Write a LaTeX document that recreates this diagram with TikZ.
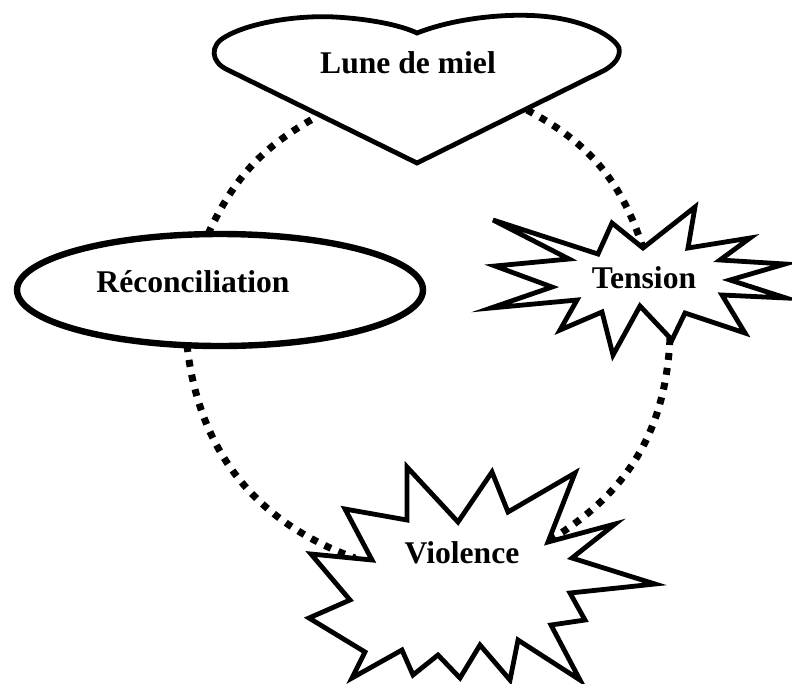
\documentclass[tikz,border=0pt]{standalone}
\usepackage{fontspec}
\setmainfont{Liberation Serif}

\begin{document}
\begin{tikzpicture}[
  x=0.75pt, y=0.75pt,
  cycleline/.style={line width=5.25pt, dash pattern=on 5.25pt off 6pt},
  outline/.style={draw=black, fill=white, line width=3.6pt},
  oval/.style={draw=black, fill=white, line width=4.8pt},
  phase/.style={font=\fontsize{23.7}{28}\selectfont\bfseries, anchor=base, inner sep=0pt}
]
  \useasboundingbox (0,0) rectangle (792,-683);

  % ends of the dotted cycle
  \coordinate (lune-w) at (318,-116);
  \coordinate (lune-e) at (527,-110);
  \coordinate (tension-n) at (643,-248);
  \coordinate (tension-s) at (670,-338);
  \coordinate (violence-e) at (550,-540);
  \coordinate (violence-w) at (355,-558);
  \coordinate (reconc-s) at (187,-345);
  \coordinate (reconc-n) at (208,-234);

  \draw[cycleline] (lune-e) to[bend left=22] (tension-n);
  \draw[cycleline] (tension-s) to[bend left=28] (violence-e);
  \draw[cycleline] (reconc-s) to[bend right=32] (violence-w);
  \draw[cycleline] (reconc-n) to[bend left=18] (lune-w);

  % heart
  \draw[outline] (417,-33) .. controls (455,-18) and (510,-12) .. (550,-17)
    .. controls (590,-22) and (615,-38) .. (619,-48)
    .. controls (621,-58) and (613,-65) .. (605,-70)
    -- (417,-163) -- (228,-70)
    .. controls (210,-62) and (210,-45) .. (225,-37)
    .. controls (250,-22) and (300,-15) .. (335,-17)
    .. controls (370,-19) and (400,-25) .. (417,-33) -- cycle;

  % tension burst
  \draw[outline] (493,-220) -- (598,-254) -- (612,-223) -- (643,-248)
    -- (695,-207) -- (688,-248) -- (750,-238) -- (720,-260)
    -- (785,-264) -- (730,-280) -- (786,-298) -- (722,-295)
    -- (745,-333) -- (685,-313) -- (672,-340) -- (640,-306)
    -- (613,-355) -- (602,-312) -- (560,-330) -- (577,-300)
    -- (491,-308) -- (552,-287) -- (495,-266) -- (569,-259) -- cycle;

  % violence burst
  \draw[outline] (407,-467) -- (458,-522) -- (492,-472) -- (508,-512)
    -- (575,-473) -- (548,-542) -- (615,-524) -- (572,-558)
    -- (655,-584) -- (570,-593) -- (585,-620) -- (551,-625)
    -- (580,-680) -- (518,-640) -- (510,-680) -- (480,-645)
    -- (460,-678) -- (438,-655) -- (413,-675) -- (402,-650)
    -- (352,-678) -- (365,-652) -- (309,-618) -- (350,-600)
    -- (311,-554) -- (372,-560) -- (345,-509) -- (407,-520) -- cycle;

  \draw[oval] (220,-290) ellipse [x radius=203, y radius=56];

  \node[phase] (lune) at (408,-73) {Lune de miel};
  \node[phase] (tension) at (644,-288) {Tension};
  \node[phase] (violence) at (462,-563) {Violence};
  \node[phase] (reconc) at (193,-292) {Réconciliation};
\end{tikzpicture}
\end{document}
